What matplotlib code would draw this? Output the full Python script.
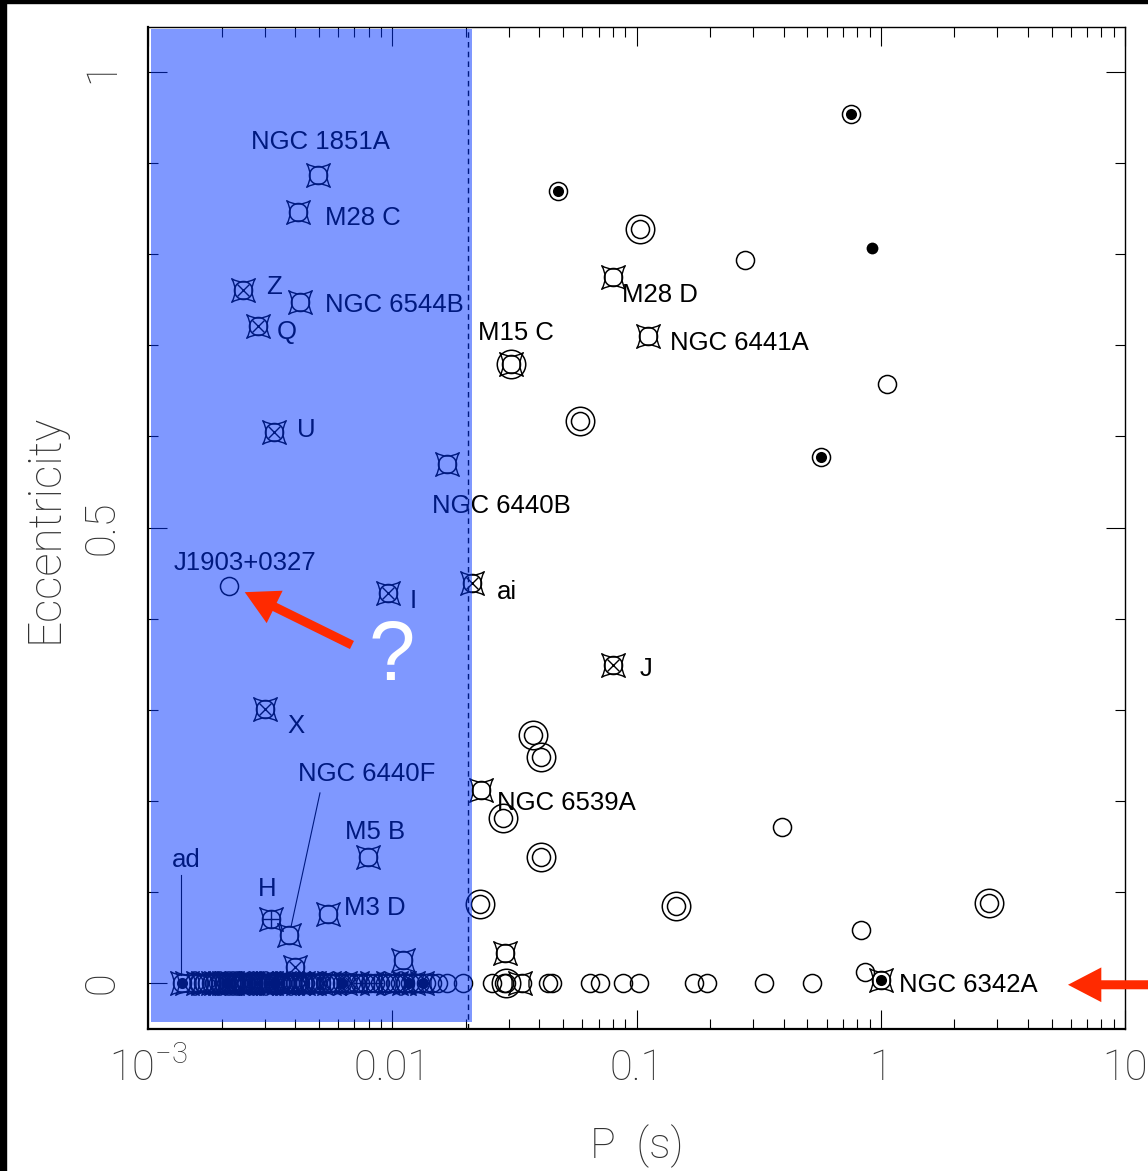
import numpy as np
import matplotlib
matplotlib.use('Agg')
import matplotlib.pyplot as plt
from matplotlib.path import Path
from matplotlib.patches import Rectangle
from matplotlib.ticker import FixedLocator, FixedFormatter, MultipleLocator, LogLocator, NullFormatter

# --- data: spin period P (s) and eccentricity ---
# pulsars with eccentric orbits (every one drawn with an open circle)
ecc_P = [0.755, 0.0478, 0.1033, 0.278, 0.0801, 0.1114, 0.0306, 1.061, 0.0587, 0.569,
         0.01675, 0.0212, 0.0801, 0.0377, 0.0406, 0.0231, 0.0284, 0.394, 0.0406, 0.02287,
         0.145, 2.77, 0.83, 0.02897, 0.862, 1.002,
         0.00497, 0.00411, 0.00245, 0.00419, 0.00282, 0.00328, 0.00215, 0.00961, 0.00301,
         0.00796, 0.00319, 0.00378, 0.00546, 0.0040, 0.01107]
ecc_e = [0.954, 0.869, 0.828, 0.794, 0.775, 0.710, 0.679, 0.658, 0.617, 0.577,
         0.570, 0.439, 0.349, 0.272, 0.248, 0.212, 0.181, 0.171, 0.138, 0.0867,
         0.0845, 0.0878, 0.058, 0.033, 0.012, 0.003,
         0.887, 0.846, 0.761, 0.748, 0.721, 0.605, 0.436, 0.428, 0.301,
         0.138, 0.070, 0.0527, 0.0757, 0.0176, 0.025]

# pulsars at e ~ 0
zero_P = [0.00138, 0.00155, 0.00162, 0.00168, 0.00175, 0.00181, 0.00187, 0.00193, 0.00198,
          0.00203, 0.00208, 0.00213, 0.00219, 0.00224, 0.00229, 0.00235, 0.00241, 0.00246,
          0.00252, 0.00258, 0.00264, 0.0027, 0.00276, 0.00282, 0.00288, 0.00295, 0.00302,
          0.00309, 0.00316, 0.00324, 0.00331, 0.00339, 0.00347, 0.00355, 0.00363, 0.00372,
          0.00381, 0.0039, 0.004, 0.0041, 0.0042, 0.0043, 0.0044, 0.0045, 0.0046, 0.0048,
          0.0049, 0.0051, 0.0053, 0.0055, 0.0057, 0.0059, 0.0062, 0.0065, 0.0068, 0.0071,
          0.0074, 0.0077, 0.0081, 0.0085, 0.0089, 0.0093, 0.0098, 0.0103, 0.0108, 0.0113,
          0.0118, 0.0124, 0.013, 0.0137, 0.0146, 0.0154, 0.0167, 0.0195,
          0.0256, 0.0287, 0.0293, 0.034, 0.0434, 0.0451, 0.0645, 0.0709, 0.0881, 0.1024,
          0.1719, 0.1944, 0.3327, 0.523]

# extra symbol layers
ring_P = [0.1033, 0.0587, 0.0306, 0.0377, 0.0406, 0.0284, 0.0406, 0.02287, 0.145, 2.77, 0.0293]
ring_e = [0.828, 0.617, 0.679, 0.272, 0.248, 0.181, 0.138, 0.0867, 0.0845, 0.0878, 0.0]
dot_P = [0.755, 0.0478, 0.569, 1.002, 0.00138, 0.0117, 0.0134, 0.0062, 0.0021, 0.0033]
dot_e = [0.954, 0.869, 0.577, 0.003, 0.0, 0.0, 0.0, 0.0, 0.0, 0.0]
star_P = [0.00497, 0.00411, 0.00245, 0.00419, 0.00282, 0.00328, 0.00961, 0.00301, 0.00796,
          0.00319, 0.00378, 0.00546, 0.0040, 0.01107, 0.0801, 0.1114, 0.0306, 0.01675,
          0.0212, 0.0801, 0.0231, 0.02897, 1.002,
          0.0333, 0.00138, 0.00175, 0.0021, 0.0026, 0.0031, 0.0037, 0.0046, 0.0055, 0.0064,
          0.0072, 0.0083, 0.0096, 0.0104, 0.0112, 0.0122, 0.0133,
          0.00145, 0.0016, 0.00168, 0.00185, 0.0019, 0.00197, 0.00205, 0.00215, 0.0022,
          0.00232, 0.0024, 0.0025, 0.00265, 0.0027, 0.0029, 0.003, 0.0032, 0.0034, 0.0036,
          0.0039, 0.0041, 0.0043, 0.0048, 0.0051, 0.0058]
star_e = [0.887, 0.846, 0.761, 0.748, 0.721, 0.605, 0.428, 0.301, 0.138,
          0.070, 0.0527, 0.0757, 0.0176, 0.025, 0.775, 0.710, 0.679, 0.570,
          0.439, 0.349, 0.212, 0.033, 0.003] + [0.0] * 42
xm_P = [0.00245, 0.00282, 0.00328, 0.00961, 0.0212, 0.0801, 0.00301, 0.0040,
        0.0023, 0.0028, 0.0035, 0.0068, 0.0019, 0.0026, 0.0031, 0.0044, 0.0052]
xm_e = [0.761, 0.721, 0.605, 0.428, 0.439, 0.349, 0.301, 0.0176] + [0.0] * 9
plus_P = [0.00319, 0.00752, 0.0084]
plus_e = [0.070, 0.0, 0.0]
solo_P = [0.92]
solo_e = [0.807]

# names
names = ['NGC 1851A', 'M28 C', 'Z', 'NGC 6544B', 'Q', 'U', 'J1903+0327', 'I', 'X',
         'NGC 6440F', 'M5 B', 'H', 'M3 D', 'ad', 'NGC 6440B', 'ai', 'J', 'M28 D',
         'NGC 6441A', 'M15 C', 'NGC 6539A', 'NGC 6342A']
name_P = [0.00506, 0.0053, 0.00304, 0.0053, 0.00337, 0.00408, 0.00249, 0.0118, 0.00371,
          0.00788, 0.0085, 0.00307, 0.00635, 0.00143, 0.0281, 0.02685, 0.1033, 0.0872,
          0.1372, 0.02244, 0.02697, 1.188]
name_e = [0.923, 0.840, 0.764, 0.744, 0.715, 0.607, 0.461, 0.419, 0.282,
          0.229, 0.166, 0.103, 0.0823, 0.135, 0.5236, 0.429, 0.345, 0.755,
          0.7025, 0.7135, 0.1976, -0.002]
name_ha = ['center', 'left', 'left', 'left', 'left', 'left', 'center', 'left', 'left',
           'center', 'center', 'center', 'left', 'center', 'center', 'left', 'left', 'left',
           'left', 'left', 'left', 'left']

# concave square ("binary") symbol
star_path = Path([(-1, -1), (0, -0.4), (1, -1), (0.4, 0), (1, 1), (0, 0.4), (-1, 1), (-0.4, 0), (-1, -1), (-1, -1)],
                 [Path.MOVETO] + [Path.CURVE3] * 8 + [Path.CLOSEPOLY])

fig = plt.figure(figsize=(11.48, 11.71), dpi=100)
ax = fig.add_axes([0.1289, 0.1213, 0.8511, 0.8556])
ax.set_xscale('log')
ax.set_xlim(1e-3, 10)
ax.set_ylim(-0.0505, 1.0494)

kw = dict(ls='none', mec='k', zorder=3)
ax.plot(ecc_P + zero_P, ecc_e + [0] * len(zero_P), marker='o', ms=13, mfc='none', mew=1.1, **kw)
ax.plot(ring_P, ring_e, marker='o', ms=20.5, mfc='none', mew=1.1, **kw)
ax.plot(dot_P, dot_e, marker='o', ms=8, mfc='k', mew=0, **kw)
ax.plot(solo_P, solo_e, marker='o', ms=8.5, mfc='k', mew=0, **kw)
ax.plot(star_P, star_e, marker=star_path, ms=17, mfc='none', mew=1.0, **kw)
ax.plot(xm_P, xm_e, marker='x', ms=9, mew=1.0, **kw)
ax.plot(plus_P, plus_e, marker='+', ms=12.5, mew=1.0, **kw)

for name, px, ey, ha in zip(names, name_P, name_e, name_ha):
    ax.text(px, ey, name, ha=ha, va='center', fontsize=18.5, family='Liberation Sans', zorder=4)

# leader lines
ax.plot([0.00137, 0.00137], [0.1185, 0.0088], color='k', lw=0.8, zorder=4)
ax.plot([0.00506, 0.00385], [0.2086, 0.0615], color='k', lw=0.8, zorder=4)

# dashed limit and shaded region
ax.axvline(0.0204, color='k', lw=1, ls=(0, (4, 3)), zorder=5)
ax.add_patch(Rectangle((0.00103, -0.0425), 0.0212 - 0.00103, 1.047 + 0.0425,
                       facecolor=(0, 0.2, 1.0), alpha=0.5, edgecolor='none', zorder=10))

ax.text(0.00998, 0.357, '?', color='white', fontsize=60, family='Liberation Sans',
        ha='center', va='center', zorder=12)
red = '#ff2a00'
ax.annotate('', xy=(0.00249, 0.429), xytext=(0.00684, 0.371),
            arrowprops=dict(facecolor=red, edgecolor='none', width=6.5, headwidth=26, headlength=24, shrink=0),
            zorder=12)
ax.annotate('', xy=(5.84, -0.002), xytext=(1.05, -0.002), textcoords=('axes fraction', 'data'),
            arrowprops=dict(facecolor=red, edgecolor='none', width=6.5, headwidth=25, headlength=24, shrink=0),
            annotation_clip=False, zorder=12)

# axes styling (PGPLOT-like)
ax.xaxis.set_major_locator(FixedLocator([1e-3, 1e-2, 1e-1, 1, 10]))
ax.xaxis.set_major_formatter(FixedFormatter([r'$\mathregular{10^{-3}}$', '0.01', '0.1', '1', '10']))
ax.xaxis.set_minor_locator(LogLocator(base=10, subs=np.arange(2, 10)))
ax.xaxis.set_minor_formatter(NullFormatter())
ax.yaxis.set_major_locator(FixedLocator([0, 0.5, 1]))
ax.yaxis.set_major_formatter(FixedFormatter(['0', '0.5', '1']))
ax.yaxis.set_minor_locator(MultipleLocator(0.1))
ax.tick_params(which='both', direction='in', top=True, right=True, width=0.8, color='k')
ax.tick_params(which='major', length=14)
ax.tick_params(which='minor', length=7)
ax.tick_params(axis='x', pad=14, labelsize=30, labelcolor='#333')
ax.tick_params(axis='y', pad=18, labelsize=30, labelcolor='#333')
for lbl in ax.get_xticklabels() + ax.get_yticklabels():
    lbl.set_family('Roboto')
    lbl.set_weight('light')
for lbl in ax.get_yticklabels():
    lbl.set_rotation(90)
    lbl.set_va('center')

for s in ax.spines.values():
    s.set_linewidth(1.0)
    s.set_color('k')
ax.spines['left'].set_linewidth(1.6)
ax.spines['bottom'].set_linewidth(1.6)

ax.set_xlabel('P  (s)', fontsize=31, family='Roboto', weight='light', color='#333')
ax.set_ylabel('Eccentricity', fontsize=33, family='Roboto', weight='light', color='#333')
ax.xaxis.set_label_coords(0.5, -0.117)
ax.yaxis.set_label_coords(-0.1054, 0.5)
ax.xaxis.label.set_va('center')
ax.yaxis.label.set_va('center')

# black frame strips at top and left edge of the image
fig.patches.append(Rectangle((0, 1 - 3 / 1171), 1, 3 / 1171, transform=fig.transFigure, color='k', zorder=20))
fig.patches.append(Rectangle((0, 0), 6 / 1148, 1, transform=fig.transFigure, color='k', zorder=20))

fig.savefig('out.png', dpi=100)
